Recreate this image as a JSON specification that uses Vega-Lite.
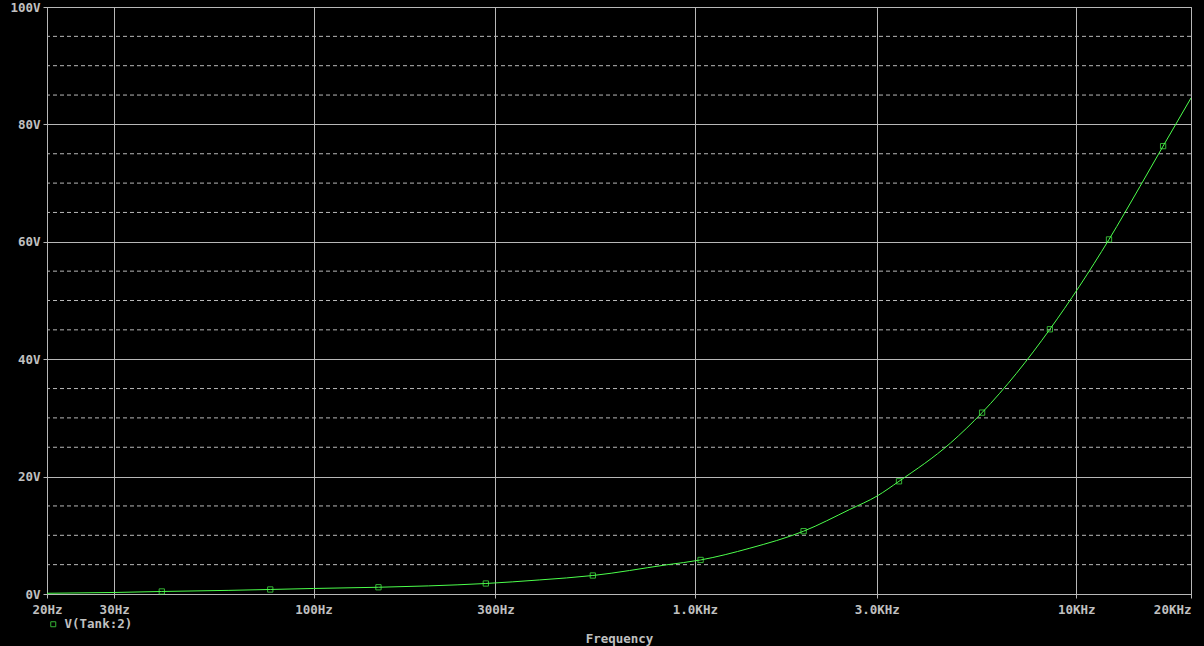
{
  "$schema": "https://vega.github.io/schema/vega-lite/v6.json",
  "width": 1144,
  "height": 587,
  "autosize": {"type": "none"},
  "padding": {"left": 47, "top": 7, "right": 13, "bottom": 52},
  "background": "#000000",
  "view": {"stroke": "#b8b8b8", "strokeWidth": 1, "fill": "#000000"},
  "config": {
    "font": "DejaVu Sans Mono",
    "axis": {
      "labelFont": "DejaVu Sans Mono",
      "labelFontSize": 12.5,
      "labelFontWeight": "bold",
      "labelColor": "#c0c0c0",
      "titleFont": "DejaVu Sans Mono",
      "titleFontSize": 12.5,
      "titleFontWeight": "bold",
      "titleColor": "#c0c0c0",
      "domainColor": "#b8b8b8",
      "tickColor": "#b8b8b8",
      "gridColor": "#b8b8b8",
      "gridOpacity": 1,
      "tickSize": 4,
      "gridWidth": 1,
      "domainWidth": 1
    },
    "legend": {
      "labelFont": "DejaVu Sans Mono",
      "labelFontSize": 12.5,
      "labelFontWeight": "bold",
      "labelColor": "#c0c0c0"
    }
  },
  "datasets": {
    "trace": [
      {"freq": 20, "volts": 0.12},
      {"freq": 30, "volts": 0.26},
      {"freq": 40, "volts": 0.43},
      {"freq": 60, "volts": 0.62},
      {"freq": 77, "volts": 0.77},
      {"freq": 100, "volts": 0.94},
      {"freq": 148, "volts": 1.15},
      {"freq": 200, "volts": 1.38},
      {"freq": 283, "volts": 1.79},
      {"freq": 392, "volts": 2.4},
      {"freq": 540, "volts": 3.15},
      {"freq": 841, "volts": 4.96},
      {"freq": 1035, "volts": 5.8},
      {"freq": 1393, "volts": 7.8},
      {"freq": 1928, "volts": 10.7},
      {"freq": 2547, "volts": 14.4},
      {"freq": 3006, "volts": 16.7},
      {"freq": 3430, "volts": 19.2},
      {"freq": 4677, "volts": 25.7},
      {"freq": 5665, "volts": 30.9},
      {"freq": 6972, "volts": 37.6},
      {"freq": 8530, "volts": 45.1},
      {"freq": 12190, "volts": 60.4},
      {"freq": 14690, "volts": 69.4},
      {"freq": 16900, "volts": 76.3},
      {"freq": 20000, "volts": 84.5}
    ],
    "markers": [
      {"freq": 40, "volts": 0.43, "series": "V(Tank:2)"},
      {"freq": 77, "volts": 0.77, "series": "V(Tank:2)"},
      {"freq": 148, "volts": 1.15, "series": "V(Tank:2)"},
      {"freq": 283, "volts": 1.79, "series": "V(Tank:2)"},
      {"freq": 540, "volts": 3.15, "series": "V(Tank:2)"},
      {"freq": 1035, "volts": 5.8, "series": "V(Tank:2)"},
      {"freq": 1928, "volts": 10.7, "series": "V(Tank:2)"},
      {"freq": 3430, "volts": 19.2, "series": "V(Tank:2)"},
      {"freq": 5665, "volts": 30.9, "series": "V(Tank:2)"},
      {"freq": 8530, "volts": 45.1, "series": "V(Tank:2)"},
      {"freq": 12190, "volts": 60.4, "series": "V(Tank:2)"},
      {"freq": 16900, "volts": 76.3, "series": "V(Tank:2)"}
    ],
    "minorGrid": [
      {"volts": 5}, {"volts": 10}, {"volts": 15},
      {"volts": 25}, {"volts": 30}, {"volts": 35},
      {"volts": 45}, {"volts": 50}, {"volts": 55},
      {"volts": 65}, {"volts": 70}, {"volts": 75},
      {"volts": 85}, {"volts": 90}, {"volts": 95}
    ]
  },
  "layer": [
    {
      "data": {"name": "minorGrid"},
      "mark": {"type": "rule", "color": "#b8b8b8", "strokeWidth": 1, "strokeDash": [4, 3]},
      "encoding": {
        "y": {
          "field": "volts", "type": "quantitative",
          "scale": {"domain": [0, 100], "nice": false, "zero": false},
          "axis": {
            "title": null,
            "values": [0, 20, 40, 60, 80, 100],
            "labelExpr": "datum.value + 'V'",
            "labelPadding": 3,
            "labelBaseline": "middle",
            "labelFlush": false,
            "grid": true
          }
        }
      }
    },
    {
      "data": {"name": "trace"},
      "mark": {"type": "line", "color": "#4cff4c", "strokeWidth": 1, "interpolate": "monotone", "clip": true},
      "encoding": {
        "x": {
          "field": "freq", "type": "quantitative",
          "scale": {"type": "log", "domain": [20, 20000], "nice": false},
          "axis": {
            "title": "Frequency",
            "values": [20, 30, 100, 300, 1000, 3000, 10000, 20000],
            "labelExpr": "datum.value == 20 ? '20Hz' : datum.value == 30 ? '30Hz' : datum.value == 100 ? '100Hz' : datum.value == 300 ? '300Hz' : datum.value == 1000 ? '1.0KHz' : datum.value == 3000 ? '3.0KHz' : datum.value == 10000 ? '10KHz' : '20KHz'",
            "labelAlign": {"condition": {"test": "datum.value == 20000", "value": "right"}, "value": "center"},
            "labelBaseline": "top",
            "labelPadding": 5,
            "labelFlush": false,
            "labelOverlap": false,
            "titlePadding": 17,
            "grid": true
          }
        },
        "y": {"field": "volts", "type": "quantitative"}
      }
    },
    {
      "data": {"name": "markers"},
      "mark": {"type": "point", "shape": "square", "filled": false, "size": 28, "strokeWidth": 1},
      "encoding": {
        "x": {"field": "freq", "type": "quantitative"},
        "y": {"field": "volts", "type": "quantitative"},
        "color": {
          "field": "series", "type": "nominal",
          "scale": {"range": ["#4cff4c"]},
          "legend": {
            "title": null,
            "orient": "none",
            "legendX": 0,
            "legendY": 611,
            "padding": 0,
            "symbolType": "square",
            "symbolSize": 25,
            "symbolStrokeWidth": 1,
            "symbolFillColor": "transparent",
            "labelOffset": 5
          }
        }
      }
    }
  ]
}
